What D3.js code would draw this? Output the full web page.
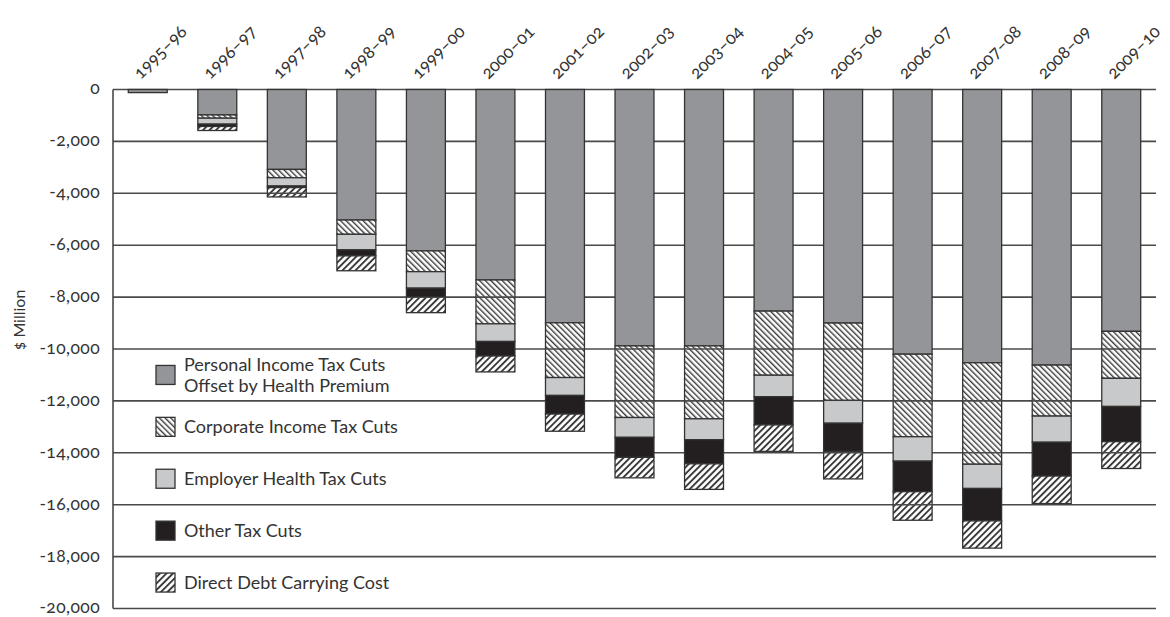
<!DOCTYPE html>
<html>
<head>
<meta charset="utf-8">
<script src="https://cdn.jsdelivr.net/npm/d3@7"></script>
<style>
  body { margin: 0; background: #fff; }
  svg text { font-family: Lato, "Open Sans", sans-serif; fill: #333; font-variant-numeric: oldstyle-nums; }
</style>
</head>
<body>
<svg id="chart"></svg>
<script>
// fiscal years along the top
var years = ["1995–96", "1996–97", "1997–98", "1998–99", "1999–00", "2000–01", "2001–02",
             "2002–03", "2003–04", "2004–05", "2005–06", "2006–07", "2007–08", "2008–09", "2009–10"];

// $ million (all cuts are negative)
var personal  = [-120, -980, -3080, -5030, -6220, -7340, -8990, -9880, -9880, -8540, -9000, -10200, -10530, -10620, -9320];
var corporate = [0, -125, -320, -550, -800, -1690, -2110, -2760, -2810, -2470, -2980, -3180, -3910, -1965, -1810];
var employer  = [0, -230, -320, -600, -635, -680, -690, -765, -805, -827, -880, -943, -935, -1008, -1085];
var other     = [0, -90, -60, -230, -345, -560, -717, -770, -930, -1089, -1086, -1176, -1249, -1303, -1356];
var debt      = [0, -155, -360, -575, -600, -613, -662, -790, -985, -1020, -1060, -1100, -1049, -1061, -1034];

var yTicks = [0, -2000, -4000, -6000, -8000, -10000, -12000, -14000, -16000, -18000, -20000];

var series = [
  { key: "personal",  label: ["Personal Income Tax Cuts", "Offset by Health Premium"], values: personal },
  { key: "corporate", label: ["Corporate Income Tax Cuts"], values: corporate },
  { key: "employer",  label: ["Employer Health Tax Cuts"], values: employer },
  { key: "other",     label: ["Other Tax Cuts"], values: other },
  { key: "debt",      label: ["Direct Debt Carrying Cost"], values: debt }
];

var fills = {
  personal: "#939598",
  corporate: "url(#hatchBack)",
  employer: "#c8c9cb",
  other: "#231f20",
  debt: "url(#hatchFwd)"
};

var width = 1170, height = 617;
var margin = { top: 89.5, right: 14, bottom: 8.5, left: 113 };

var svg = d3.select("#chart").attr("width", width).attr("height", height);

// hatch patterns
var defs = svg.append("defs");
function hatch(id, size, lineW, angle) {
  var p = defs.append("pattern")
    .attr("id", id)
    .attr("patternUnits", "userSpaceOnUse")
    .attr("width", size).attr("height", size)
    .attr("patternTransform", "rotate(" + angle + ")");
  p.append("rect").attr("width", size).attr("height", size).attr("fill", "#fff");
  p.append("rect").attr("x", 0).attr("width", lineW).attr("height", size).attr("fill", "#3a3a3a");
}
hatch("hatchBack", 4, 1.4, -45);
hatch("hatchFwd", 4.6, 1.9, 45);

var x = d3.scaleBand()
  .domain(years)
  .range([margin.left, width - margin.right])
  .paddingInner(0.44)
  .paddingOuter(0.22);

var y = d3.scaleLinear()
  .domain([0, -20000])
  .range([margin.top, height - margin.bottom]);

// gridlines
svg.append("g")
  .selectAll("line")
  .data(yTicks)
  .enter().append("line")
    .attr("x1", margin.left).attr("x2", width - margin.right)
    .attr("y1", function (d) { return y(d) }).attr("y2", function (d) { return y(d) })
    .attr("stroke", "#4a4a4a").attr("stroke-width", 1.6);

// y axis line
svg.append("line")
  .attr("x1", margin.left).attr("x2", margin.left)
  .attr("y1", y(0)).attr("y2", y(-20000))
  .attr("stroke", "#4a4a4a").attr("stroke-width", 1.6);

// tick labels
svg.append("g")
  .selectAll("text")
  .data(yTicks)
  .enter().append("text")
    .attr("x", 100)
    .attr("y", function (d) { return y(d) })
    .attr("dy", "0.28em")
    .attr("text-anchor", "end")
    .attr("font-size", 17.5)
    .attr("letter-spacing", 0.4)
    .text(function (d) { return d === 0 ? "0" : d3.format(",")(d).replace("−", "-") });

svg.append("text")
  .attr("transform", "translate(25,320) rotate(-90)")
  .attr("text-anchor", "middle")
  .attr("font-size", 16)
  .text("$ Million");

// year labels on top
svg.append("g")
  .selectAll("text")
  .data(years)
  .enter().append("text")
    .attr("transform", function (d) {
      return "translate(" + (x(d) + x.bandwidth() / 2 - 7) + ",80) rotate(-45)";
    })
    .attr("font-size", 17.5)
    .text(function (d) { return d });

// stacked bars
var table = years.map(function (yr, i) {
  var row = { year: yr };
  series.forEach(function (s) { row[s.key] = s.values[i] });
  return row;
});

var stack = d3.stack()
  .keys(series.map(function (s) { return s.key }))
  .offset(d3.stackOffsetDiverging);

var layers = stack(table);

svg.append("g")
  .selectAll("g")
  .data(layers)
  .enter().append("g")
    .attr("fill", function (d) { return fills[d.key] })
  .selectAll("rect")
  .data(function (d) { return d.filter(function (p) { return p[1] !== p[0] }) })
  .enter().append("rect")
    .attr("x", function (d) { return x(d.data.year) })
    .attr("width", x.bandwidth())
    .attr("y", function (d) { return y(d[1]) })
    .attr("height", function (d) { return y(d[0]) - y(d[1]) })
    .attr("stroke", "#333")
    .attr("stroke-width", 1.3);

// gridlines show through the hatched segments
var mask = defs.append("mask").attr("id", "hatchMask").attr("maskUnits", "userSpaceOnUse");
mask.selectAll("rect")
  .data(layers.filter(function (l) { return l.key === "corporate" || l.key === "debt" })
    .reduce(function (acc, l) { return acc.concat(l.filter(function (p) { return p[1] !== p[0] })) }, []))
  .enter().append("rect")
    .attr("x", function (d) { return x(d.data.year) })
    .attr("width", x.bandwidth())
    .attr("y", function (d) { return y(d[1]) })
    .attr("height", function (d) { return y(d[0]) - y(d[1]) })
    .attr("fill", "#fff");

svg.append("g")
  .selectAll("line")
  .data(yTicks.slice(1))
  .enter().append("line")
    .attr("x1", margin.left).attr("x2", width - margin.right)
    .attr("y1", function (d) { return y(d) }).attr("y2", function (d) { return y(d) })
    .attr("stroke", "#4a4a4a").attr("stroke-width", 1.6)
    .attr("mask", "url(#hatchMask)");

// legend, one item per band between gridlines
var legend = svg.append("g")
  .selectAll("g")
  .data(series)
  .enter().append("g")
    .attr("transform", function (d, i) {
      return "translate(156," + ((y(-10000 - i * 2000) + y(-12000 - i * 2000)) / 2) + ")";
    });

legend.append("rect")
  .attr("x", 0).attr("y", -9.5)
  .attr("width", 19).attr("height", 19)
  .attr("fill", function (d) { return fills[d.key] })
  .attr("stroke", "#333").attr("stroke-width", 1.3);

legend.append("text")
  .attr("x", 28)
  .attr("font-size", 18)
  .each(function (d) {
    var t = d3.select(this);
    var n = d.label.length;
    d.label.forEach(function (line, j) {
      t.append("tspan")
        .attr("x", 28)
        .attr("y", (j - (n - 1) / 2) * 21.5)
        .attr("dy", "0.35em")
        .text(line);
    });
  });
</script>
</body>
</html>
